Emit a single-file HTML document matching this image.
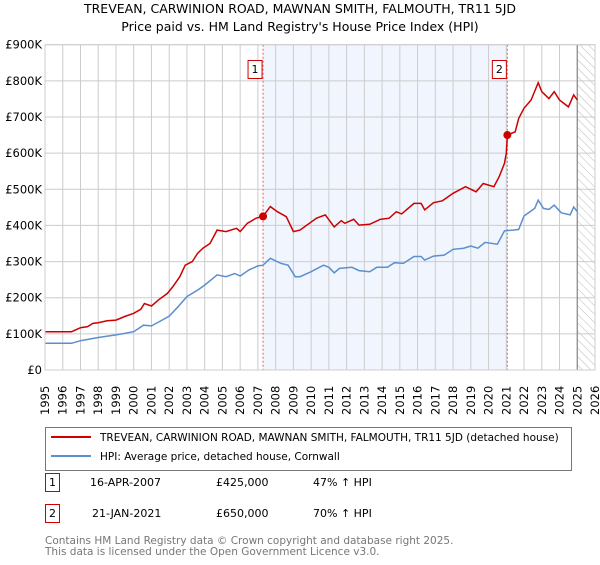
<!DOCTYPE html>
<html><head><meta charset="utf-8"><style>
body{margin:0;background:#fff;font-family:"Liberation Sans","DejaVu Sans",sans-serif;}
svg text{font-family:"DejaVu Sans","Liberation Sans",sans-serif;}
</style></head><body>
<svg id="chart" width="600" height="560" xmlns="http://www.w3.org/2000/svg">
<defs><pattern id="hatch" width="6" height="6" patternUnits="userSpaceOnUse" patternTransform="rotate(-45)"><line x1="0" y1="0" x2="0" y2="6" stroke="#bbb" stroke-width="1"/></pattern></defs>
<text x="300" y="13" font-size="12.5" text-anchor="middle">TREVEAN, CARWINION ROAD, MAWNAN SMITH, FALMOUTH, TR11 5JD</text>
<text x="300" y="31" font-size="12.5" text-anchor="middle">Price paid vs. HM Land Registry's House Price Index (HPI)</text>
<g id="plot"></g>
<rect x="45.5" y="427.5" width="526" height="43" fill="#fff" stroke="#777"/>
<line x1="51" y1="437" x2="91" y2="437" stroke="#cc0000" stroke-width="2"/>
<text x="100" y="441" font-size="10.5">TREVEAN, CARWINION ROAD, MAWNAN SMITH, FALMOUTH, TR11 5JD (detached house)</text>
<line x1="51" y1="456" x2="91" y2="456" stroke="#5b8fd0" stroke-width="2"/>
<text x="100" y="460" font-size="10.5">HPI: Average price, detached house, Cornwall</text>
<rect x="45.5" y="473.5" width="14" height="18" fill="#fff" stroke="#cc0000"/>
<text x="52.5" y="486" font-size="11" text-anchor="middle">1</text>
<text x="90" y="486" font-size="11">16-APR-2007</text>
<text x="216" y="486" font-size="11">£425,000</text>
<text x="313" y="486" font-size="11">47% ↑ HPI</text>
<rect x="45.5" y="504.5" width="14" height="18" fill="#fff" stroke="#cc0000"/>
<text x="52.5" y="517" font-size="11" text-anchor="middle">2</text>
<text x="92" y="517" font-size="11">21-JAN-2021</text>
<text x="216" y="517" font-size="11">£650,000</text>
<text x="313" y="517" font-size="11">70% ↑ HPI</text>
<text x="45" y="544" font-size="10.5" fill="#777">Contains HM Land Registry data © Crown copyright and database right 2025.</text>
<text x="45" y="555" font-size="10.5" fill="#777">This data is licensed under the Open Government Licence v3.0.</text>
</svg>
<script>
const years=[1995,1996,1997,1998,1999,2000,2001,2002,2003,2004,2005,2006,2007,2008,2009,2010,2011,2012,2013,2014,2015,2016,2017,2018,2019,2020,2021,2022,2023,2024,2025,2026];
const yTicks=[0,100,200,300,400,500,600,700,800,900];
const yTickLabels=["£0","£100K","£200K","£300K","£400K","£500K","£600K","£700K","£800K","£900K"];
const propT=[1995,1996.5,1997,1997.4,1997.7,1998,1998.5,1999,1999.5,2000,2000.4,2000.6,2001,2001.4,2001.9,2002.2,2002.6,2002.9,2003.3,2003.6,2003.9,2004.3,2004.7,2005.2,2005.8,2006.0,2006.4,2006.9,2007.29,2007.7,2008.1,2008.6,2009.0,2009.37,2010.3,2010.8,2011.3,2011.7,2011.9,2012.4,2012.7,2013.3,2013.9,2014.4,2014.8,2015.1,2015.8,2016.2,2016.4,2016.9,2017.4,2018.0,2018.7,2019.3,2019.7,2020.3,2020.6,2020.9,2021.0,2021.06,2021.5,2021.7,2022.0,2022.4,2022.8,2023.0,2023.4,2023.7,2024.0,2024.5,2024.8,2025.0];
const propV=[106,106,117,120,129,131,136,138,148,157,168,184,177,194,212,230,258,290,300,323,337,350,387,383,392,383,406,420,425,452,438,424,383,387,420,429,396,413,406,417,401,403,417,420,438,432,461,461,443,463,468,489,507,493,516,507,535,572,600,650,659,696,724,747,795,770,751,770,747,728,761,747];
const hpiT=[1995,1996.5,1997,1998,1999,2000,2000.55,2001,2001.6,2002,2002.5,2003,2003.6,2004,2004.7,2005.2,2005.7,2006,2006.5,2007,2007.29,2007.7,2008.3,2008.7,2009.1,2009.37,2010,2010.7,2011,2011.3,2011.6,2012.3,2012.7,2013.3,2013.7,2014.3,2014.7,2015.2,2015.8,2016.2,2016.4,2016.9,2017.5,2018,2018.6,2019,2019.4,2019.8,2020.5,2020.9,2021.4,2021.7,2022,2022.6,2022.8,2023.1,2023.4,2023.7,2024.1,2024.6,2024.8,2025.0];
const hpiV=[74,74,81,90,97,106,124,122,138,149,175,203,221,235,263,258,267,260,277,288,290,309,295,290,258,258,272,290,284,269,281,284,275,272,284,284,297,295,314,314,304,315,318,334,337,343,337,353,348,385,387,389,426,447,470,447,444,456,435,429,451,438];
const saleT=[2007.29,2021.06];
const saleV=[425,650];
const L=45,R=595,T=44.7,B=370;
const x=t=>L+(t-1995)/(2026-1995)*(R-L);
const y=v=>B-v/900*(B-T);
const g=document.getElementById('plot');
const NS='http://www.w3.org/2000/svg';
function mk(tag,attrs,parent){const e=document.createElementNS(NS,tag);for(const k in attrs)e.setAttribute(k,attrs[k]);(parent||g).appendChild(e);return e;}
let r=mk('rect',{x:x(saleT[0]),y:T,width:x(saleT[1])-x(saleT[0]),height:B-T,fill:'#eef3fc',opacity:0.8});


let h=mk('rect',{x:x(2025),y:T,width:R-x(2025),height:B-T,fill:'url(#hatch)'});


years.forEach(t=>{const l=mk('line',{x1:x(t),x2:x(t),y1:T,y2:B,stroke:'#ccc','stroke-width':1});


const tx=mk('text',{transform:`translate(${x(t)+4},${B+45}) rotate(-90)`,'font-size':11.5});tx.textContent=t;

});
yTicks.forEach((v,i)=>{const l=mk('line',{x1:L,x2:R,y1:y(v),y2:y(v),stroke:'#ccc','stroke-width':1});


const tx=mk('text',{x:L-3,y:y(v)+4,'font-size':11.5,'text-anchor':'end'});tx.textContent=yTickLabels[i];

});
let vl=mk('line',{x1:x(2025),x2:x(2025),y1:T,y2:B,stroke:'#888','stroke-width':1.2});


saleT.forEach((t,i)=>{const l=mk('line',{x1:x(t),x2:x(t),y1:T,y2:B,stroke:'#e06666','stroke-width':1,'stroke-dasharray':'2,2'});


const b=mk('rect',{x:x(t)-15,y:60.5,width:14,height:18,fill:'#fff',stroke:'#cc0000'});


const tx=mk('text',{x:x(t)-8,y:73,'font-size':11,'text-anchor':'middle'});tx.textContent=i+1;

});
const path=(T_,V)=>T_.map((t,i)=>(i?'L':'M')+x(t).toFixed(1)+','+y(V[i]).toFixed(1)).join('');
let hp=mk('path',{d:path(hpiT,hpiV),fill:'none',stroke:'#5b8fd0','stroke-width':1.5});


let pp=mk('path',{d:path(propT,propV),fill:'none',stroke:'#cc0000','stroke-width':1.5});


saleT.forEach((t,i)=>{const c=mk('circle',{cx:x(t),cy:y(saleV[i]),r:4,fill:'#cc0000'});

});
let fr=mk('rect',{x:L,y:T,width:R-L,height:B-T,fill:'none',stroke:'#ccc'});


</script>
</body></html>
